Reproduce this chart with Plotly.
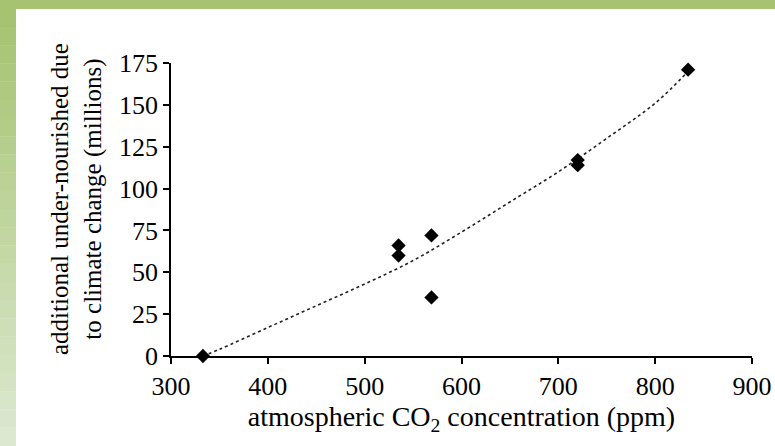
import plotly.graph_objects as go

# Observed scenarios: CO2 level (ppm) vs additional under-nourished people (millions)
co2_ppm = [333, 535, 535, 569, 569, 720, 720, 834]
undernourished = [0, 66, 60, 72, 35, 117, 114, 171]

# Fitted trend curve, sampled along the dotted line
trend_ppm = [333, 350, 400, 450, 500, 550, 600, 650, 700, 750, 800, 834]
trend_val = [0, 4, 17, 30, 43, 57, 74, 92, 110, 130, 151, 170]

x_ticks = [300, 400, 500, 600, 700, 800, 900]
y_ticks = [0, 25, 50, 75, 100, 125, 150, 175]

W, H = 775, 446
L, R, T, B = 171, 23, 63, 90
pw, ph = W - L - R, H - T - B

serif = "Liberation Serif, Times New Roman, serif"

fig = go.Figure()
fig.add_trace(go.Scatter(
    x=trend_ppm, y=trend_val, mode="lines",
    line=dict(color="#222222", width=1.6, dash="dot", shape="spline"),
    hoverinfo="skip", cliponaxis=False,
))
fig.add_trace(go.Scatter(
    x=co2_ppm, y=undernourished, mode="markers",
    marker=dict(symbol="diamond", size=11, color="black"),
    cliponaxis=False,
))


def px_x(p):
    return (p - L) / pw


def px_y(p):
    return (H - B - p) / ph


# decorative green frame: top band and a left band fading downward
shapes = [dict(type="rect", xref="paper", yref="paper",
               x0=px_x(0), x1=px_x(W), y0=px_y(0), y1=px_y(9),
               fillcolor="#a5c370", line=dict(width=0), layer="below")]
top_rgb = (165, 195, 112)
bot_rgb = (220, 232, 208)
n = 24
for i in range(n):
    f = i / (n - 1)
    c = tuple(round(top_rgb[k] + (bot_rgb[k] - top_rgb[k]) * f) for k in range(3))
    y0 = 9 + (H - 9) * i / n
    y1 = 9 + (H - 9) * (i + 1) / n
    shapes.append(dict(type="rect", xref="paper", yref="paper",
                       x0=px_x(0), x1=px_x(16), y0=px_y(y1), y1=px_y(y0) + 0.001,
                       fillcolor="rgb(%d,%d,%d)" % c, line=dict(width=0), layer="below"))

# vertical axis title, placed as a rotated two-line annotation
annotations = [dict(
    text="additional under-nourished due<br>to climate change (millions)",
    textangle=-90, xref="paper", yref="paper",
    x=px_x(76), y=px_y(199), xanchor="center", yanchor="middle",
    showarrow=False, font=dict(family=serif, size=25, color="black"),
)]

fig.update_layout(
    width=W, height=H,
    margin=dict(l=L, r=R, t=T, b=B),
    paper_bgcolor="white", plot_bgcolor="white",
    showlegend=False,
    font=dict(family=serif, size=26, color="black"),
    shapes=shapes,
    annotations=annotations,
    xaxis=dict(
        range=[300, 900], tickvals=x_ticks, ticktext=[str(v) for v in x_ticks],
        showgrid=False, zeroline=False, showline=True, linecolor="black", linewidth=1.5,
        ticks="outside", ticklen=6, tickwidth=1.5, tickcolor="black",
        tickfont=dict(family=serif, size=26),
        title=dict(text="atmospheric CO<sub>2</sub> concentration (ppm)",
                   font=dict(family=serif, size=28), standoff=2),
        automargin=False,
    ),
    yaxis=dict(
        range=[0, 175], tickvals=y_ticks, ticktext=[str(v) for v in y_ticks],
        showgrid=False, zeroline=False, showline=True, linecolor="black", linewidth=1.5,
        ticks="outside", ticklen=6, tickwidth=1.5, tickcolor="black",
        tickfont=dict(family=serif, size=26),
        automargin=False,
    ),
)

fig.write_html("out.html")
